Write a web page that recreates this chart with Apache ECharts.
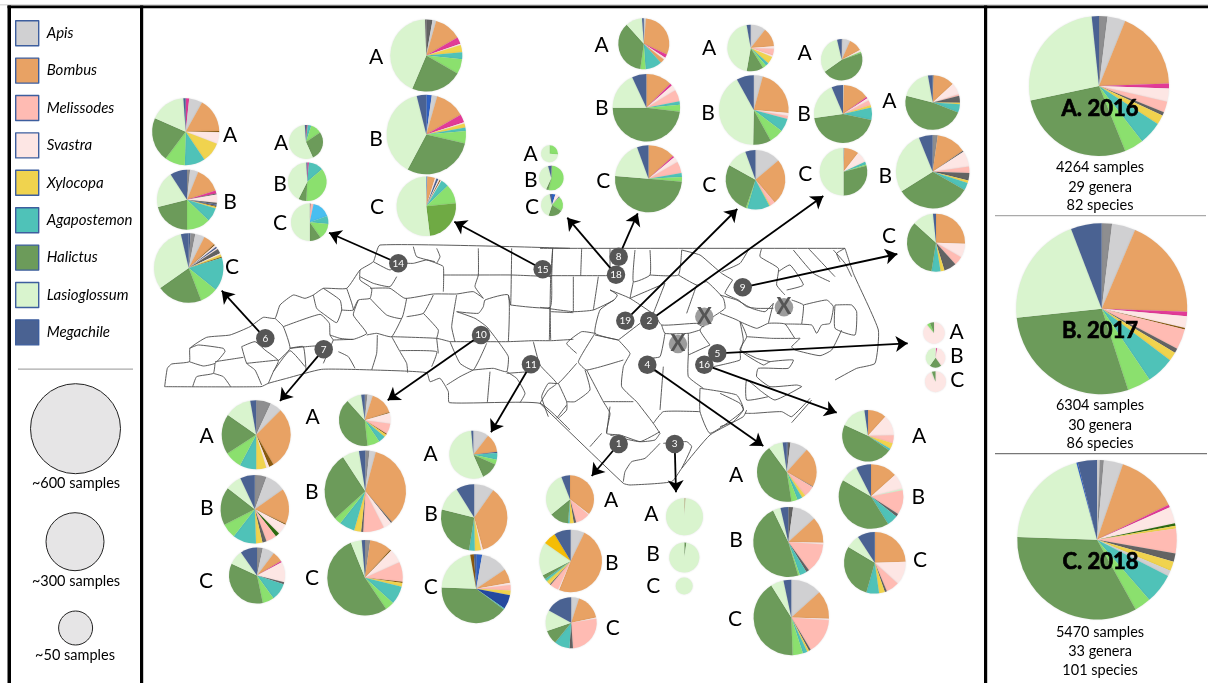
<!DOCTYPE html>
<html><head><meta charset="utf-8">
<style>html,body{margin:0;padding:0;background:#fff}#c{width:1208px;height:683px}</style>
<script src="https://cdn.jsdelivr.net/npm/echarts@6/dist/echarts.min.js"></script>
</head><body><div id="c"></div>
<script>
// genus keys
const legendNames = ['Apis','Bombus','Melissodes','Svastra','Xylocopa','Agapostemon','Halictus','Lasioglossum','Megachile'];
const genusKeys = {G:'Apis',B:'Bombus',M:'Melissodes',S:'Svastra',X:'Xylocopa',A:'Agapostemon',H:'Halictus',W:'Lasioglossum',N:'Megachile',
  D:'Other genus a',L:'Other genus b',P:'Other genus c',K:'Other genus d',O:'Other genus e',C:'Other genus f',U:'Other genus g',Y:'Other genus h',Z:'Other genus i',E:'Other genus j',T:'Other genus k'};
// slice shares, clockwise from 12 o'clock (key, degrees)
const s6A=['P',6,'G',23,'B',59,'O',2,'S',20,'X',35,'A',35,'L',35,'H',76,'W',62,'N',4];
const s6B=['D',6,'G',16,'B',50,'P',6,'K',2,'S',16,'K',3,'N',3,'O',2,'X',3,'A',27,'L',46,'H',76,'W',71,'N',33];
const s6C=['N',3,'D',8,'G',16,'B',20,'O',2,'S',3,'N',3,'S',2,'K',8,'S',2,'X',4,'O',2,'A',56,'L',30,'H',76,'W',112,'N',13];
const s14A=['K',3,'P',3,'A',12,'L',38,'H',100,'W',200,'N',4];
const s14B=['P',5,'A',45,'L',133,'H',24,'W',150,'N',3];
const s14C=['K',3,'M',9,'U',58,'A',25,'L',50,'H',35,'W',180];
const s15A=['K',10,'G',6,'B',44,'P',11,'S',2,'X',12,'A',11,'L',24,'H',83,'W',155,'K',2];
const s15B=['C',8,'G',8,'B',44,'P',12,'S',2,'X',6,'A',5,'L',18,'H',105,'W',138,'N',14];
const s15C=['C',2,'B',15,'S',3,'N',4,'S',3,'O',2,'S',2,'A',15,'L',38,'Y',89,'W',187];
const s18A=['L',95,'W',265];
const s18B=['K',3,'L',190,'H',12,'W',140,'N',15];
const s18C=['C',18,'S',22,'N',3,'L',80,'H',75,'W',150,'N',12];
const s8A=['G',5,'B',110,'P',8,'S',5,'B',10,'A',38,'L',12,'H',130,'W',38,'N',4];
const s8B=['B',45,'P',4,'S',10,'M',20,'A',6,'L',12,'H',173,'W',65,'N',25];
const s8C=['B',47,'P',3,'S',10,'M',20,'A',7,'L',8,'H',180,'W',65,'N',20];
const s19A=['G',38,'B',48,'S',6,'M',17,'S',4,'X',18,'A',8,'L',9,'H',42,'W',160,'N',10];
const s19B=['G',15,'B',80,'S',5,'M',5,'A',22,'L',24,'H',30,'W',150,'N',29];
const s19C=['G',50,'B',90,'M',10,'X',2,'A',44,'L',3,'H',100,'W',41,'N',20];
const s2A=['K',2,'G',22,'B',38,'S',5,'L',4,'H',164,'W',112,'N',13];
const s2B=['G',2,'B',52,'P',3,'S',5,'M',10,'X',5,'A',25,'H',160,'W',75,'N',23];
const s2C=['N',2,'B',36,'S',27,'A',7,'L',3,'H',105,'W',180];
const s9A=['K',2,'B',45,'S',25,'M',3,'K',15,'X',3,'A',18,'H',172,'W',65,'N',10];
const s9B=['D',8,'B',47,'K',2,'S',25,'M',10,'K',12,'X',4,'A',12,'H',118,'W',100,'N',22];
const s9C=['B',92,'S',28,'M',18,'K',25,'X',8,'A',18,'H',123,'W',42,'N',6];
const s5A=['S',320,'L',18,'H',22];
const s5B=['S',4,'P',6,'S',135,'H',70,'W',145];
const s5C=['S',335,'W',5,'H',20];
const s16A=['B',42,'S',47,'M',18,'X',13,'A',5,'H',170,'W',57,'N',8];
const s16B=['B',48,'S',28,'W',3,'M',44,'K',5,'A',20,'H',152,'W',33,'N',27];
const s16C=['B',88,'S',44,'M',25,'K',4,'X',11,'A',24,'H',105,'W',26,'N',33];
const s4A=['N',2,'K',5,'G',35,'B',77,'K',1,'M',22,'X',7,'A',10,'L',12,'H',153,'W',28,'N',8];
const s4B=['K',8,'G',40,'B',44,'S',3,'M',50,'K',5,'A',12,'L',3,'H',172,'W',13,'N',13];
const s4C=['G',48,'B',44,'S',2,'M',55,'K',3,'X',3,'A',7,'L',16,'H',150,'W',20,'N',12];
const s3A=['O',3,'W',357];
const s3B=['H',8,'W',352];
const s3C=['W',360];
const s1A=['B',128,'S',2,'M',35,'K',6,'X',10,'A',4,'H',46,'W',108,'N',21];
const s1B=['G',26,'B',176,'S',2,'M',16,'K',2,'X',7,'L',2,'A',4,'H',8,'W',62,'Z',24,'N',31];
const s1C=['G',18,'B',60,'S',3,'M',95,'K',8,'A',35,'H',32,'W',48,'N',61];
const s7A=['D',25,'G',20,'B',105,'O',8,'S',5,'X',17,'A',28,'L',29,'H',68,'W',45,'N',10];
const s7B=['D',20,'G',35,'B',60,'O',2,'S',18,'E',7,'M',18,'K',7,'X',11,'A',40,'L',25,'H',65,'W',27,'N',25];
const s7C=['D',12,'G',25,'B',22,'P',3,'S',42,'K',4,'A',36,'L',24,'H',127,'W',30,'N',35];
const s10A=['D',6,'G',12,'B',54,'O',2,'S',24,'M',24,'O',2,'X',6,'A',16,'L',28,'H',144,'W',34,'N',8];
const s10B=['D',6,'G',9,'B',124,'K',2,'S',12,'M',30,'K',3,'X',10,'A',22,'L',10,'H',99,'W',24,'N',9];
const s10C=['D',8,'B',34,'O',2,'S',22,'M',30,'O',2,'X',6,'A',28,'L',14,'H',192,'W',17,'N',5];
const s11A=['G',38,'B',45,'N',3,'A',16,'L',12,'H',42,'W',199,'N',5];
const s11B=['G',35,'B',130,'S',3,'X',11,'A',10,'H',95,'W',44,'N',32];
const s11C=['C',10,'G',46,'B',24,'S',4,'M',9,'X',8,'T',24,'A',2,'H',145,'W',78,'O',6,'N',4];
const yearA=['D',7,'G',15,'B',66,'P',4,'S',11,'M',9,'K',3,'X',8,'A',19,'L',16,'H',100,'W',96,'N',6];
const yearB=['D',7,'G',16,'B',69,'P',3,'S',8,'O',1,'M',14,'K',3,'X',6,'A',19,'L',16,'H',102,'W',75,'N',21];
const yearC=['G',2,'D',3,'G',14,'B',45,'P',2,'S',12,'E',2,'X',2,'M',18,'K',6,'X',7,'G',4,'A',22,'L',12,'H',121,'W',73,'C',1,'N',14];

const colors={G:'#D0D0D2',B:'#E8A264',M:'#FFBBB3',S:'#FDE6E4',X:'#F0D34E',A:'#4FC2B8',H:'#6C9B5A',W:'#D9F4CE',N:'#4A6292',
  D:'#8E8E90',L:'#8BE06E',P:'#E23B97',K:'#636363',O:'#8A5A0F',C:'#2F62C4',U:'#48BEF0',Y:'#6FAA44',Z:'#F5BD05',E:'#2F6B12',T:'#24499F'};

// pie placement: values, centre x, centre y, radius, letter x, letter y
const pieTable=[
 ['A',s6A,185.7,131.7,33.5,230,135],['B',s6B,187,199.7,30,230,202],['C',s6C,188.7,268,34.7,232,267],
 ['A',s14A,306,142,17,281,143],['B',s14B,307.3,181.7,19.3,280,184],['C',s14C,309.7,222.3,18.7,280,223],
 ['A',s15A,426.3,55.5,36,376,57],['B',s15B,426.3,134.5,39.7,376,139],['C',s15C,426.3,206.3,29.7,377,207],
 ['A',s18A,549.5,153.8,8.5,530.7,154],['B',s18B,551.3,178,12.3,530.7,180],['C',s18C,552,205,11,532,207],
 ['A',s8A,643.8,43.8,25.5,601.7,45],['B',s8B,646.4,107.7,33.7,601.7,108],['C',s8C,648.5,178.8,33.5,603.3,181],
 ['A',s19A,750.7,48,23.3,709,48.7],['B',s19B,753.8,110,34.8,708,113],['C',s19C,755.5,179.7,29.8,709.3,185],
 ['A',s2A,841.7,59.8,20.7,804.7,53],['B',s2B,843,114,29,804,114],['C',s2C,843.5,171.8,23.8,805.3,174.7],
 ['A',s9A,932.7,102.5,27.3,889.3,101.7],['B',s9B,932.7,171.7,36.7,885.3,176.7],['C',s9C,936,242.7,29,889,236],
 ['A',s5A,934,333,10.7,956.7,332.7],['B',s5B,935.5,357.8,9.8,956.7,356.7],['C',s5C,935.5,381.7,10.5,957.3,380],
 ['A',s16A,868,435.8,25.8,919,436],['B',s16B,871,496.5,32.3,918.3,497.3],['C',s16C,874.8,562.8,30.8,920,560.7],
 ['A',s4A,786.8,472,29.8,736,475],['B',s4B,788.3,542,35,736,540.7],['C',s4C,791.3,617.5,37.7,735,619],
 ['A',s3A,684.5,516.7,18.5,651.3,514.3],['B',s3B,684.3,557.5,15,653,554],['C',s3C,684.2,586,8.5,653.3,586],
 ['A',s1A,570,499.3,24,611,500.7],['B',s1B,570.7,561,31.3,611.7,563.3],['C',s1C,571.2,622.8,25.5,612.7,628.3],
 ['A',s7A,256.2,434.7,34.5,206.7,436.7],['B',s7B,254.8,509.2,34.2,206.7,508.3],['C',s7C,257,575.5,28,206,581],
 ['A',s10A,364.8,420.2,25.8,312.7,417.3],['B',s10B,365.3,491.3,40.7,311.7,492.7],['C',s10C,365,577.7,37.7,312,578.3],
 ['A',s11A,473.3,454.7,24,430.7,454.3],['B',s11B,474.2,517.5,33.2,431,514],['C',s11C,476.2,588.7,34.5,430.7,587.3],
 ['',yearA,1099,86,70],['',yearB,1101.7,308.7,85.5],['',yearC,1097,539.7,79.7]
];

// map sites: label, x, y, arrow target x, y
const sites=[
 ['6',265.3,338.3,221.7,290.7],['7',323.7,349.3,280,401],['10',481,335,387.7,400.3],['11',531,364.3,491,432.3],
 ['14',398.3,263.3,329,232.7],['15',542.7,269.3,454.3,221.7],['18',616,274.7,567.3,217.7],['8',618.7,256.7,637.7,213.3],
 ['19',625.3,320.7,737.3,209],['2',649.3,320.7,823.3,196],['9',742.7,287.3,897.3,254],['5',717.3,353.3,907.7,343.3],
 ['16',704.3,364.7,836.7,412.7],['4',647.3,364.7,763.3,446],['1',618.7,444,591.7,476],['3',674.7,444,676,492.3]
];
const crossedSites=[[704.3,316.7],[784,307.3],[678,344]];

// county lines, traced at 3x from the picture; each group has its own origin
const mapWest=[
 [[74,500],[363,500],[385,490],[440,475],[545,448],[700,450],[860,458],[870,485],[900,475],[925,515],[928,548],[1200,550],[1290,630]],
 [[74,500],[82,445],[95,432],[148,425],[150,385],[200,352],[270,345],[330,320],[370,292],[405,295],[420,255],[460,225],[495,235],[520,225],[550,205],[620,205],[660,150],[700,125],[720,75],[1290,85]],
 [[148,385],[175,375],[250,385],[255,395],[225,430],[190,438],[148,425]],
 [[225,430],[220,460],[170,470],[158,500]],[[220,460],[250,470],[272,500]],[[225,425],[310,412]],
 [[305,380],[345,365],[375,390],[415,422],[400,455],[385,490]],[[305,380],[320,430],[345,450],[365,495]],[[320,430],[415,420]],
 [[405,295],[430,320],[450,385],[415,422]],[[450,385],[490,380],[498,450]],[[400,455],[450,392],[495,440]],
 [[430,320],[540,283],[568,310],[570,345],[580,360]],[[450,385],[525,378],[550,385]],
 [[520,225],[530,265],[555,285],[590,308],[605,270],[600,240],[550,205]],[[605,270],[640,270],[620,205]],
 [[640,270],[655,240],[690,235],[695,205],[660,180],[660,150]],[[660,170],[700,190],[750,200],[770,170]],
 [[700,125],[750,150],[775,130],[820,130],[860,120],[890,130],[910,140],[910,215]],
 [[690,205],[750,205],[795,235],[880,222],[950,222],[1000,215],[1030,235]],
 [[690,235],[740,285],[785,295],[800,235]],[[800,290],[850,280],[880,225]],[[850,280],[895,330],[890,355]],
 [[655,240],[640,285],[680,340],[640,358],[600,355],[570,345]],[[680,345],[710,340],[755,350],[785,295]],
 [[580,360],[640,358]],[[755,350],[890,355],[930,365]],[[580,360],[550,430]],[[595,395],[625,410],[645,445]],
 [[712,345],[710,400],[695,450]],[[755,350],[780,395],[800,430],[803,458]],[[780,392],[890,395],[875,440]],[[890,355],[895,400]],
 [[930,365],[1000,365],[1105,365],[1180,362],[1235,362],[1300,358]],
 [[950,225],[935,320],[945,365]],[[950,275],[1005,295],[1040,320],[1075,365],[1105,410],[1100,455],[1060,445],[1000,450]],
 [[930,365],[960,430],[1000,450],[1040,370]],[[950,275],[1015,280],[1030,260],[1035,240],[1105,225],[1105,365]],
 [[1000,450],[960,470],[920,495]],[[1050,455],[1042,548]],[[1100,455],[1130,475],[1155,520],[1140,548]],[[1100,460],[1170,455]],
 [[1180,365],[1200,435],[1250,490],[1225,510],[1200,550]],[[1015,85],[1015,165],[1005,200],[1030,235]],
 [[910,165],[1015,165],[1115,165],[1235,170]],[[1115,85],[1112,255],[1105,225]],[[1238,85],[1235,170],[1230,262],[1112,255]],
 [[1230,262],[1232,360]],[[1232,275],[1300,278]],[[890,85],[900,110],[890,130]],[[820,80],[830,110],[885,125]]
];
const mapEast=[
 [[0,85],[915,85]],
 [[38,85],[32,170],[30,275],[28,360]],[[125,85],[122,168]],[[210,85],[210,165]],[[0,167],[205,167]],[[100,170],[100,275]],[[175,170],[160,270]],
 [[0,262],[100,275],[160,270],[222,240],[232,225],[210,210]],[[285,90],[280,185],[330,165],[330,90]],[[425,90],[415,165],[330,165]],
 [[280,185],[270,235]],[[210,210],[270,235],[345,285]],[[270,235],[375,190]],[[222,240],[180,270],[165,340],[235,360]],[[235,360],[300,310]],[[375,190],[340,280]],
 [[415,165],[470,195],[500,185],[550,235],[555,265],[520,290],[490,320],[470,310],[365,315],[345,285]],
 [[425,90],[480,105],[510,130],[545,160],[578,180]],[[625,90],[600,130],[545,155]],[[470,195],[440,280]],
 [[578,180],[555,220],[595,240],[620,260],[650,265],[700,265]],
 [[600,305],[610,360],[600,395]],[[520,290],[480,330],[510,375]],[[365,315],[375,340],[445,340],[480,330]],[[445,340],[445,405]],
 [[375,340],[360,410],[320,415]],[[445,405],[510,375]],[[235,360],[270,400],[260,420],[250,440],[245,500],[290,545]],
 [[165,340],[115,425],[140,450],[250,420]],[[165,340],[125,335],[80,370],[110,400]],[[235,360],[165,345]],
 [[110,430],[55,490],[25,490],[5,530],[25,590]],[[135,450],[150,510],[105,545],[80,545]],[[55,490],[80,545],[80,570],[55,595]],
 [[140,450],[190,545],[210,580],[200,640],[240,645],[300,665],[345,660],[360,640]],[[190,545],[280,545]],
 [[290,545],[340,610],[360,640]],[[340,610],[370,575],[480,575]],[[370,440],[360,570]],[[322,440],[370,470]],
 [[480,505],[590,525],[610,570],[510,640],[480,575],[480,505]],[[445,405],[445,470],[490,505]],[[520,440],[600,420],[600,395]]
];
const mapSouth=[
 [[30,10],[280,250],[300,255],[425,245],[455,205],[540,105],[640,50],[650,30]],
 [[180,140],[215,100]],[[240,105],[330,125],[390,95]],[[280,245],[285,215],[305,185],[345,175],[390,130]],
 [[400,130],[470,125],[485,140],[455,205]],[[80,55],[110,15]],[[230,100],[240,20]]
];
// north-east corner and sounds, traced at 3x with origin (720,240)
const mapCoast=[
 [[375,25],[400,100],[475,270],[465,370],[410,385],[345,420]],[[340,30],[375,70],[395,110]],[[375,25],[350,40],[360,65]],
 [[125,25],[120,50],[175,85],[170,135],[195,165]],[[220,30],[280,100],[330,125]],[[265,25],[345,110]],[[175,95],[210,75],[250,135],[200,150]],
 [[345,195],[395,195],[410,215],[405,285],[345,265],[345,195]],
 [[250,195],[320,180],[340,200],[330,250],[305,255],[290,280],[275,255],[195,252]],
 [[215,180],[250,195],[245,252]],[[160,190],[145,250]],
 [[0,165],[50,180],[95,205],[135,215],[160,190]],
 [[60,245],[110,265],[145,250],[195,252],[225,295],[240,295],[215,320],[225,330],[300,347],[335,330],[365,270]],
 [[0,220],[60,245],[80,290],[60,330],[130,375],[150,365],[220,360],[205,385],[115,385],[110,410],[150,440],[230,435],[245,440],[165,480],[125,455],[80,420],[80,480],[145,470]],
 [[80,290],[155,295],[225,295]],[[60,330],[110,355],[150,365]],
 [[0,460],[60,490],[70,510],[40,545],[0,560]],
 [[75,520],[100,520],[185,515],[215,530],[270,475]],[[215,548],[275,480]]
];

const toPx=(g,ox,oy)=>g.map(l=>l.map(p=>[ox+p[0]/3,oy+p[1]/3]));
const mapData=[...toPx(mapWest,140,220),...toPx(mapEast,540,220),...toPx(mapSouth,530,400),...toPx(mapCoast,720,240)];

const font='Lato, "Open Sans", sans-serif';
const series=[];
series.push({type:'lines',coordinateSystem:'cartesian2d',silent:true,z:110,symbol:['none','arrow'],symbolSize:[9,12],progressive:0,
  lineStyle:{color:'#000',width:1.8,opacity:1},data:sites.map(s=>({coords:[[s[1],s[2]],[s[3],s[4]]]}))});
series.push({type:'scatter',silent:true,z:113,symbol:'circle',symbolSize:18.5,itemStyle:{color:'#565656',opacity:1},
  label:{show:true,position:'inside',color:'#fff',fontSize:10,fontFamily:font,formatter:p=>p.value[2]},
  data:sites.map(s=>[s[1],s[2],s[0]])});
series.push({type:'scatter',silent:true,z:113,symbol:'circle',symbolSize:18.5,itemStyle:{color:'#9c9c9c',opacity:1},
  label:{show:true,position:'inside',color:'#555',fontSize:22,fontWeight:'bold',fontFamily:font,formatter:'X'},
  data:crossedSites});
// sample-size key circles
const keyCircles=[[75.5,428.7,90],[75,541.7,58],[75.6,628,34]];
keyCircles.forEach(k=>series.push({type:'scatter',silent:true,z:2,symbol:'circle',symbolSize:k[2],
  itemStyle:{color:'#E6E5E6',borderColor:'#222',borderWidth:1,opacity:1},data:[[k[0],k[1]]]}));
// text annotations
const textRows=[
 ['~600 samples',76,483.5,14.5,'normal'],['~300 samples',76,581.5,14.5,'normal'],['~50 samples',75,655.5,14.5,'normal'],
 ['A. 2016',1100,109,22,'bold'],['B. 2017',1100,330.5,22,'bold'],['C. 2018',1100.5,561.5,22,'bold'],
 ['4264 samples',1100,167.5,14.5,'normal'],['29 genera',1100,187,14.5,'normal'],['82 species',1100,205,14.5,'normal'],
 ['6304 samples',1100,405.5,14.5,'normal'],['30 genera',1100,425,14.5,'normal'],['86 species',1100,443,14.5,'normal'],
 ['5470 samples',1100,632.5,14.5,'normal'],['33 genera',1100,651.5,14.5,'normal'],['101 species',1100,670,14.5,'normal']
];
const textPoint=(t,x,y,size,weight)=>({name:t,value:[x,y,t],symbolSize:0,
  label:{show:true,position:'inside',formatter:t,fontSize:size,fontWeight:weight,fontFamily:font,color:'#000',
    textBorderColor:'#000',textBorderWidth:weight==='bold'?0.7:0}});
series.push({type:'scatter',silent:true,z:20,itemStyle:{opacity:1},
  data:textRows.map(r=>textPoint(r[0],r[1],r[2],r[3],r[4]))});
series.push({type:'scatter',silent:true,z:20,itemStyle:{opacity:1},
  data:pieTable.filter(p=>p[0]).map(p=>textPoint(p[0],p[5],p[6],21,'normal'))});
// pies
pieTable.forEach(p=>{
  const d=[];for(let i=0;i<p[1].length;i+=2){const k=p[1][i];
    d.push({name:genusKeys[k],value:p[1][i+1],itemStyle:{color:colors[k]}});}
  series.push({type:'pie',silent:true,z:10,center:[p[2],p[3]],radius:[0,p[4]],startAngle:90,clockwise:true,
    label:{show:false},labelLine:{show:false},emphasis:{disabled:true},avoidLabelOverlap:false,minAngle:0,
    itemStyle:{shadowBlur:2,shadowColor:'rgba(0,0,0,0.12)'},data:d,animation:false});
});

const frame=(x,y,w,h,c)=>({type:'rect',silent:true,z:50,shape:{x,y,width:w,height:h},style:{fill:c}});
const chart=echarts.init(document.getElementById('c'));
chart.setOption({
  animation:false,backgroundColor:'#fff',
  grid:{left:0,right:0,top:0,bottom:0},
  xAxis:{type:'value',min:0,max:1208,show:false},
  yAxis:{type:'value',min:0,max:683,inverse:true,show:false},
  legend:{show:true,data:legendNames,orient:'vertical',left:15,top:20,padding:0,itemWidth:23,itemHeight:25,itemGap:11,
    icon:'rect',selectedMode:false,itemStyle:{borderColor:'#3D5E9E',borderWidth:1.4},
    textStyle:{fontFamily:font,fontStyle:'italic',fontSize:15,color:'#000',padding:[0,0,0,3]},z:60},
  graphic:{elements:[
    ...mapData.map(l=>({type:'polyline',silent:true,z:100,shape:{points:l,smooth:0.15},style:{stroke:'#4a4a4a',lineWidth:0.9,fill:null}})),
    frame(0,4,1208,1.5,'#dddddd'),
    frame(7.5,5.5,1200.5,2.8,'#000'),
    frame(7.5,5.5,3.5,678,'#000'),
    frame(140,5.5,3.2,678,'#000'),
    frame(984,5.5,3.2,678,'#000'),
    frame(18,368.5,115,1.2,'#aaaaaa'),
    frame(995,215,211,1.2,'#aaaaaa'),
    frame(995,453,212,1.2,'#777777')
  ]},
  series
});
</script></body></html>
